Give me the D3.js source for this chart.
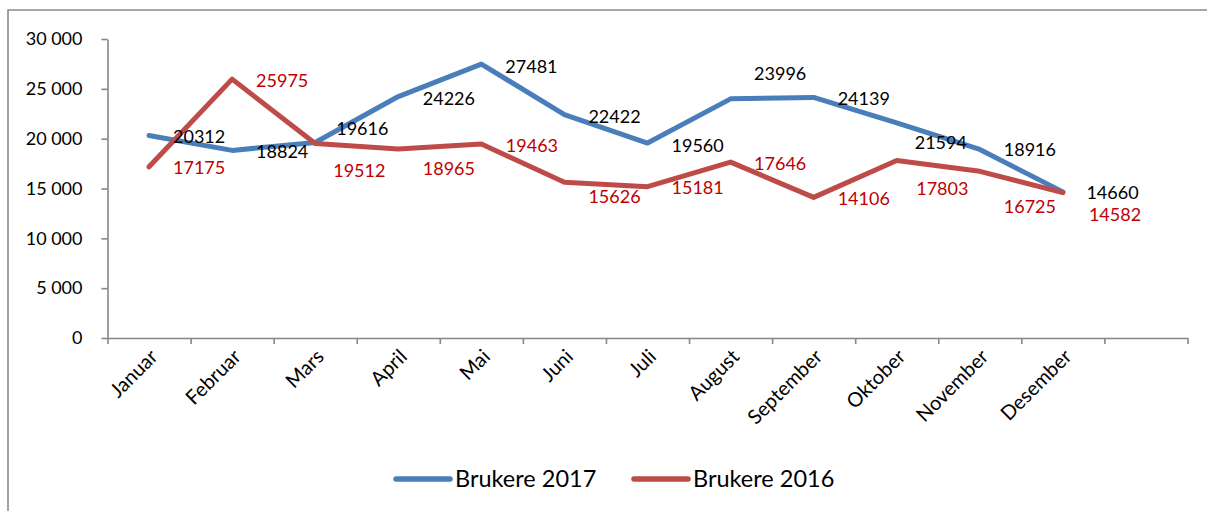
<!DOCTYPE html>
<html>
<head>
<meta charset="utf-8">
<script src="https://cdn.jsdelivr.net/npm/d3@7"></script>
<style>
  html, body { margin: 0; padding: 0; background: #ffffff; overflow: hidden; }
  svg { display: block; font-family: Lato, "Open Sans", sans-serif; }
</style>
</head>
<body>
<svg id="chart" width="1207" height="511"></svg>
<script>
// ---- data ----
const months = ["Januar", "Februar", "Mars", "April", "Mai", "Juni", "Juli",
                "August", "September", "Oktober", "November", "Desember"];
const brukere2017 = [20312, 18824, 19616, 24226, 27481, 22422, 19560, 23996, 24139, 21594, 18916, 14660];
const brukere2016 = [17175, 25975, 19512, 18965, 19463, 15626, 15181, 17646, 14106, 17803, 16725, 14582];
const seriesNames = ["Brukere 2017", "Brukere 2016"];
const yTicks = [0, 5000, 10000, 15000, 20000, 25000, 30000];

// ---- layout (label offsets relative to each point: [dx, dy]) ----
const labelOffsets2017 = [[24,1],[24,1],[21,-14],[24.5,2],[24,2],[24,2],[24,2],[23.5,-25.5],[24,1],[18,19.5],[24,0.5],[23.5,1]];
const labelOffsets2016 = [[24,1],[24,1.5],[18,26.5],[24.5,20],[24.5,2],[24,14.5],[24,1],[23.5,1],[24,1],[19.5,27.7],[24,35],[26,22]];

const svg = d3.select("#chart");
const W = 1207, H = 511;
svg.append("rect").attr("width", W).attr("height", H).attr("fill", "#fff");

const plot = { left: 107.5, right: 1187.5, top: 39, bottom: 338 };

// 13 category slots (last one empty, as in the original)
const slots = months.concat([""]);
const x = d3.scaleBand().domain(d3.range(slots.length)).range([plot.left, plot.right]).padding(0);
const xEdge = d3.scaleLinear().domain([0, slots.length]).range([plot.left, plot.right]);
const y = d3.scaleLinear().domain([0, 30000]).range([plot.bottom, plot.top]);
const cx = i => x(i) + x.bandwidth() / 2;

const axisColor = "#868686";
const fmt = v => d3.format(",")(v).replace(/,/g, " ");

// y axis
const yAxis = svg.append("g")
  .attr("transform", `translate(${plot.left},0)`)
  .call(d3.axisLeft(y).tickValues(yTicks).tickFormat(fmt).tickSize(6).tickSizeOuter(0).tickPadding(19));
yAxis.select(".domain").attr("stroke", axisColor).attr("stroke-width", 1.6);
yAxis.selectAll(".tick line").attr("stroke", axisColor).attr("stroke-width", 1.6);
yAxis.selectAll(".tick text").attr("fill", "#000").attr("font-size", 18).attr("font-family", "Lato, sans-serif");

// x axis (tick marks at slot boundaries)
const xAxis = svg.append("g")
  .attr("transform", `translate(0,${plot.bottom})`)
  .call(d3.axisBottom(xEdge).tickValues(d3.range(slots.length + 1)).tickFormat("").tickSize(6).tickSizeOuter(0));
xAxis.select(".domain").attr("stroke", axisColor).attr("stroke-width", 1.6);
xAxis.selectAll(".tick line").attr("stroke", axisColor).attr("stroke-width", 1.6);

// month labels, rotated
svg.append("g").selectAll("text")
  .data(months)
  .join("text")
  .attr("transform", (d, i) => `translate(${cx(i) + 5},${plot.bottom + 15}) rotate(-45)`)
  .attr("text-anchor", "end")
  .attr("dy", "0.35em")
  .attr("font-size", 20)
  .attr("fill", "#000")
  .text(d => d);

// lines
const series = [
  { name: seriesNames[0], values: brukere2017, color: "#4a7ebb", labelColor: "#000000", offsets: labelOffsets2017 },
  { name: seriesNames[1], values: brukere2016, color: "#be4b48", labelColor: "#c00000", offsets: labelOffsets2016 }
];

const line = d3.line().x((d, i) => cx(i)).y(d => y(d));

series.forEach(s => {
  svg.append("path")
    .datum(s.values)
    .attr("d", line)
    .attr("fill", "none")
    .attr("stroke", s.color)
    .attr("stroke-width", 5)
    .attr("stroke-linejoin", "round")
    .attr("stroke-linecap", "round");
});

// data labels
series.forEach(s => {
  svg.append("g").selectAll("text")
    .data(s.values)
    .join("text")
    .attr("x", (d, i) => cx(i) + s.offsets[i][0])
    .attr("y", (d, i) => y(d) + s.offsets[i][1])
    .attr("dy", "0.36em")
    .attr("font-size", 18)
    .attr("fill", s.labelColor)
    .text(d => d);
});

// legend
const legend = svg.append("g").attr("transform", "translate(0,479)");
const legendItems = [
  { name: seriesNames[0], color: series[0].color, x: 396 },
  { name: seriesNames[1], color: series[1].color, x: 634 }
];
legendItems.forEach(it => {
  legend.append("line")
    .attr("x1", it.x).attr("x2", it.x + 54).attr("y1", 0).attr("y2", 0)
    .attr("stroke", it.color).attr("stroke-width", 5.5).attr("stroke-linecap", "round");
  legend.append("text")
    .attr("x", it.x + 59).attr("y", 0).attr("dy", "0.36em")
    .attr("font-size", 23.5).attr("fill", "#000")
    .text(it.name);
});

// cover strip on the far right (nothing belongs there)
svg.append("rect").attr("x", W - 14).attr("y", 0).attr("width", 14).attr("height", H).attr("fill", "#fff");

// outer chart border: only top and left edges are visible in the frame
const borderColor = "#8a8a8a";
svg.append("path")
  .attr("d", `M8,${H + 2} L8,10 L${W + 2},10`)
  .attr("fill", "none").attr("stroke", borderColor).attr("stroke-width", 1.6);
</script>
</body>
</html>
